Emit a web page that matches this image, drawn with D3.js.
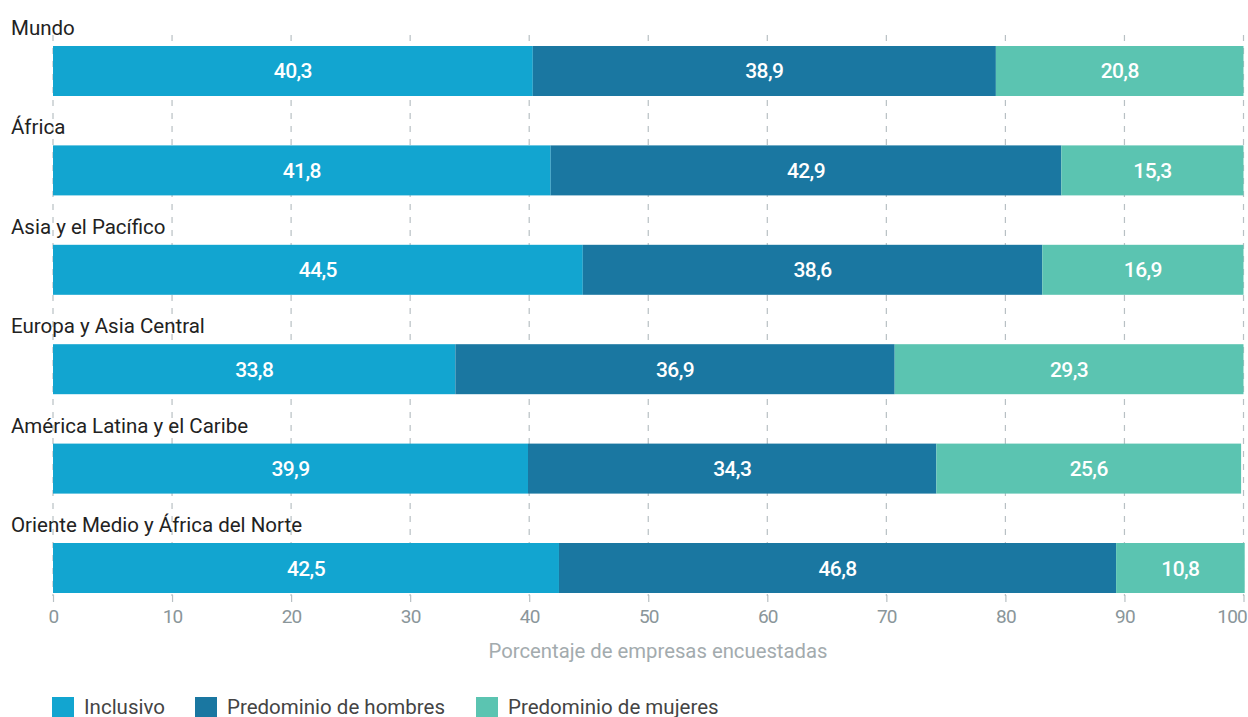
<!DOCTYPE html>
<html><head><meta charset="utf-8">
<script src="https://cdn.jsdelivr.net/npm/d3@7"></script>
<style>
body{margin:0;background:#fff;}
text{font-family:Roboto,"Noto Sans",sans-serif;}
</style></head>
<body><svg id="c" width="1248" height="717"></svg>
<script>
const regions = ["Mundo","África","Asia y el Pacífico","Europa y Asia Central","América Latina y el Caribe","Oriente Medio y África del Norte"];
const inclusivo = [40.3,41.8,44.5,33.8,39.9,42.5];
const hombres = [38.9,42.9,38.6,36.9,34.3,46.8];
const mujeres = [20.8,15.3,16.9,29.3,25.6,10.8];
const seriesNames = ["Inclusivo","Predominio de hombres","Predominio de mujeres"];
const colors = ["#12a5d0","#1a77a1","#5bc4b1"];
const ticks = [0,10,20,30,40,50,60,70,80,90,100];
const axisTitle = "Porcentaje de empresas encuestadas";

const svg = d3.select("#c");
const x = d3.scaleLinear().domain([0,100]).range([53,1243.5]);
const y = d3.scaleBand().domain(regions).range([46,593]).paddingInner(0.497).paddingOuter(0);
const data = regions.map((r,i)=>({region:r, Inclusivo:inclusivo[i], "Predominio de hombres":hombres[i], "Predominio de mujeres":mujeres[i]}));
const stack = d3.stack().keys(seriesNames)(data);

// grid
svg.append("g").selectAll("line").data(ticks).join("line")
  .attr("x1",d=>x(d)).attr("x2",d=>x(d)).attr("y1",35).attr("y2",596)
  .attr("stroke","#b8c0c4").attr("stroke-width",1.2).attr("stroke-dasharray","6,7");

// bars
stack.forEach((s,si)=>{
  const g = svg.append("g");
  g.selectAll("rect").data(s).join("rect")
    .attr("x",d=>x(d[0])).attr("width",d=>x(d[1])-x(d[0]))
    .attr("y",d=>y(d.data.region)).attr("height",y.bandwidth())
    .attr("fill",colors[si]);
  g.selectAll("text").data(s).join("text")
    .attr("x",d=>(x(d[0])+x(d[1]))/2).attr("y",d=>y(d.data.region)+y.bandwidth()/2+7.5)
    .attr("text-anchor","middle").attr("fill","#fff").attr("font-size",21).attr("font-weight",500)
    .attr("letter-spacing",-0.6)
    .text(d=>d3.format(".1f")(d[1]-d[0]).replace(".",","));
});

// region labels
svg.append("g").selectAll("text").data(regions).join("text")
  .attr("x",11).attr("y",d=>y(d)-11)
  .attr("font-size",20.5).attr("fill","#222").text(d=>d);

// axis
const ax = svg.append("g").attr("transform","translate(0,595)")
  .call(d3.axisBottom(x).tickValues(ticks).tickSize(7).tickPadding(8).tickFormat(d3.format("d")));
ax.select(".domain").remove();
ax.selectAll(".tick line").attr("stroke","#b8c0c4").attr("stroke-width",1.2);
ax.selectAll(".tick text").attr("font-size",19).attr("fill","#8a969a").attr("letter-spacing",-0.8).attr("font-family","Roboto,sans-serif");
ax.select(".tick:last-of-type text").attr("text-anchor","end").attr("dx",3);

svg.append("text").attr("x",658).attr("y",658).attr("text-anchor","middle")
  .attr("font-size",20.3).attr("fill","#a3abae").text(axisTitle);

// legend
const legX = [52,195,476];
const lg = svg.append("g");
seriesNames.forEach((n,i)=>{
  lg.append("rect").attr("x",legX[i]).attr("y",697).attr("width",22).attr("height",22).attr("fill",colors[i]);
  lg.append("text").attr("x",legX[i]+32).attr("y",714).attr("font-size",20.5).attr("fill","#444").text(n);
});
</script></body></html>
